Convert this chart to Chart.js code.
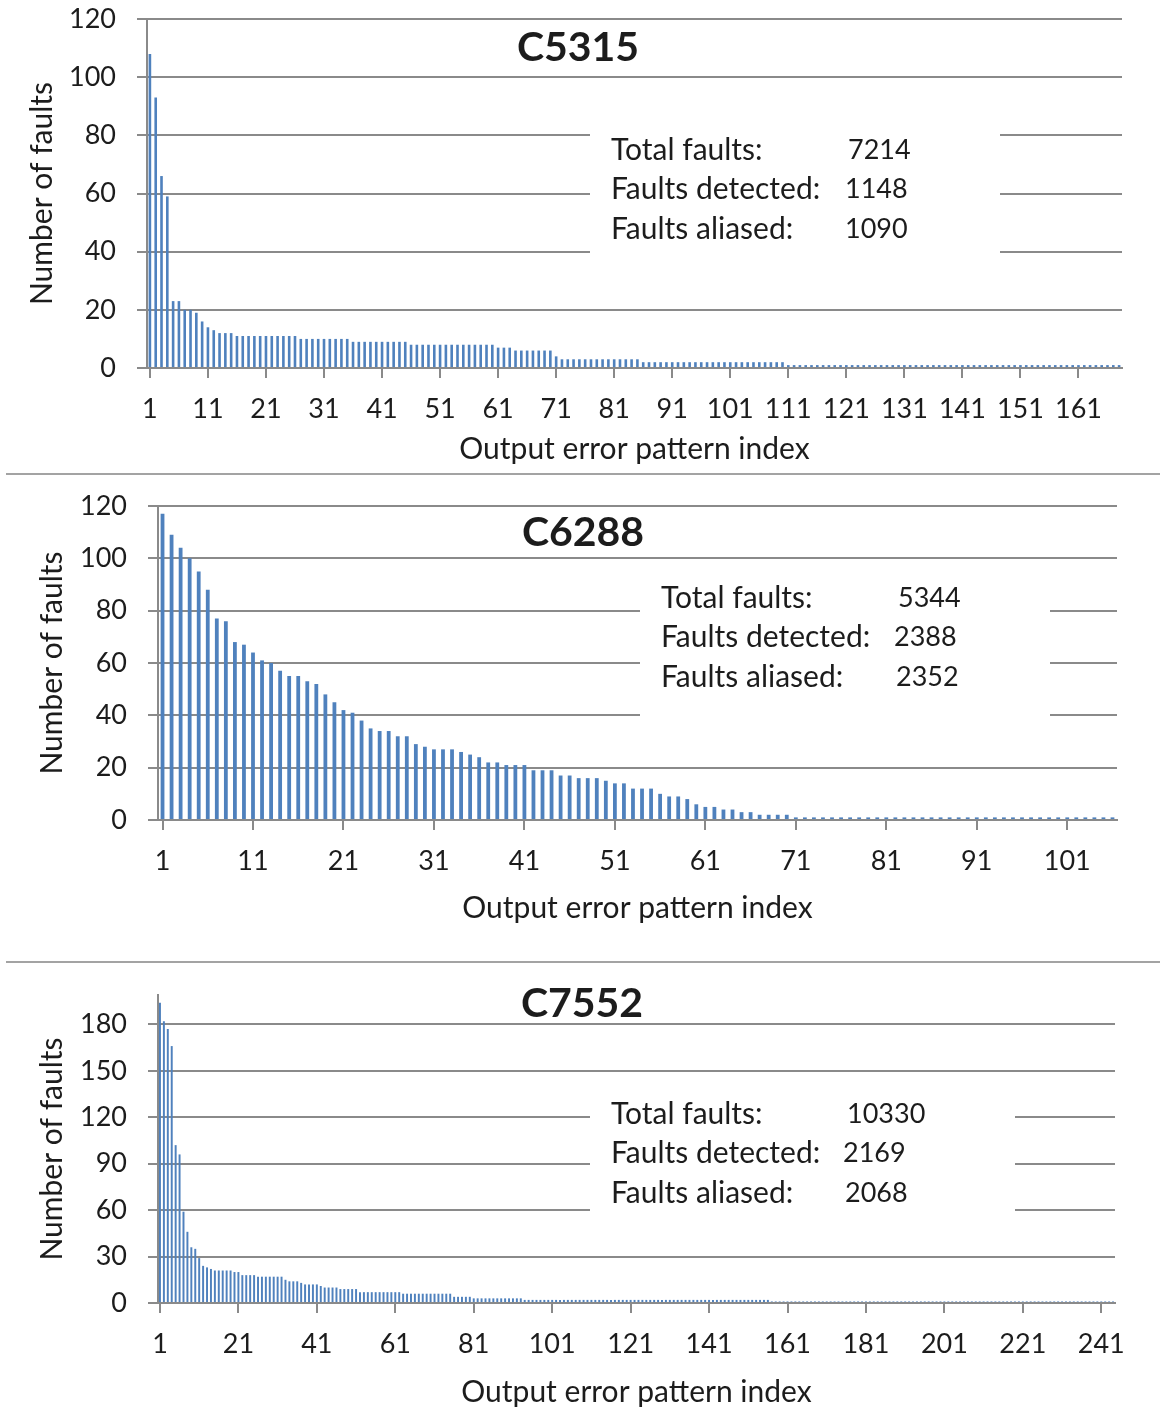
<!DOCTYPE html>
<html>
<head>
<meta charset="utf-8">
<title>Faults per output error pattern</title>
<script src="https://cdn.jsdelivr.net/npm/chart.js@4.4.1/dist/chart.umd.min.js"></script>
<style>
  body { margin: 0; background: #fff; }
  #page { position: relative; width: 1160px; height: 1410px; overflow: hidden; background: #fff; }
  canvas { position: absolute; left: 0; }
  .rule { position: absolute; left: 6px; width: 1154px; height: 2px; background: #a3a3a3; }
</style>
</head>
<body>
<div id="page">
  <canvas id="c5315" width="1160" height="470" style="top:0px"></canvas>
  <div class="rule" style="top:473px"></div>
  <canvas id="c6288" width="1160" height="482" style="top:478px"></canvas>
  <div class="rule" style="top:961px"></div>
  <canvas id="c7552" width="1160" height="444" style="top:966px"></canvas>
</div>
<script>
// values, one bar per output error pattern
const c5315Faults = [
  108, 93, 66, 59, 23, 23, 20, 20, 19, 16, 14, 13, 12, 12, 12, 11, 11, 11, 11, 11,
  11, 11, 11, 11, 11, 11, 10, 10, 10, 10, 10, 10, 10, 10, 10, 9, 9, 9, 9, 9,
  9, 9, 9, 9, 9, 8, 8, 8, 8, 8, 8, 8, 8, 8, 8, 8, 8, 8, 8, 8,
  7, 7, 7, 6, 6, 6, 6, 6, 6, 6, 4, 3, 3, 3, 3, 3, 3, 3, 3, 3,
  3, 3, 3, 3, 3, 2, 2, 2, 2, 2, 2, 2, 2, 2, 2, 2, 2, 2, 2, 2,
  2, 2, 2, 2, 2, 2, 2, 2, 2, 2, 1, 1, 1, 1, 1, 1, 1, 1, 1, 1,
  1, 1, 1, 1, 1, 1, 1, 1, 1, 1, 1, 1, 1, 1, 1, 1, 1, 1, 1, 1,
  1, 1, 1, 1, 1, 1, 1, 1, 1, 1, 1, 1, 1, 1, 1, 1, 1, 1, 1, 1,
  1, 1, 1, 1, 1, 1, 1, 1
];
const c6288Faults = [
  117, 109, 104, 100, 95, 88, 77, 76, 68, 67, 64, 61, 60, 57, 55, 55, 53, 52, 48, 45,
  42, 41, 38, 35, 34, 34, 32, 32, 29, 28, 27, 27, 27, 26, 25, 24, 22, 22, 21, 21,
  21, 19, 19, 19, 17, 17, 16, 16, 16, 15, 14, 14, 12, 12, 12, 10, 9, 9, 8, 6,
  5, 5, 4, 4, 3, 3, 2, 2, 2, 2, 1, 1, 1, 1, 1, 1, 1, 1, 1, 1,
  1, 1, 1, 1, 1, 1, 1, 1, 1, 1, 1, 1, 1, 1, 1, 1, 1, 1, 1, 1,
  1, 1, 1, 1, 1, 1
];
const c7552Faults = [
  194, 182, 177, 166, 102, 96, 59, 46, 36, 35, 29, 24, 23, 22, 21, 21, 21, 21, 21, 20,
  20, 18, 18, 18, 18, 17, 17, 17, 17, 17, 17, 17, 15, 14, 14, 14, 13, 12, 12, 12,
  12, 11, 10, 10, 10, 10, 9, 9, 9, 9, 9, 7, 7, 7, 7, 7, 7, 7, 7, 7,
  7, 7, 6, 6, 6, 6, 6, 6, 6, 6, 6, 6, 6, 6, 6, 4, 4, 4, 4, 4,
  3, 3, 3, 3, 3, 3, 3, 3, 3, 3, 3, 3, 3, 2, 2, 2, 2, 2, 2, 2,
  2, 2, 2, 2, 2, 2, 2, 2, 2, 2, 2, 2, 2, 2, 2, 2, 2, 2, 2, 2,
  2, 2, 2, 2, 2, 2, 2, 2, 2, 2, 2, 2, 2, 2, 2, 2, 2, 2, 2, 2,
  2, 2, 2, 2, 2, 2, 2, 2, 2, 2, 2, 2, 2, 2, 2, 2, 1, 1, 1, 1,
  1, 1, 1, 1, 1, 1, 1, 1, 1, 1, 1, 1, 1, 1, 1, 1, 1, 1, 1, 1,
  1, 1, 1, 1, 1, 1, 1, 1, 1, 1, 1, 1, 1, 1, 1, 1, 1, 1, 1, 1,
  1, 1, 1, 1, 1, 1, 1, 1, 1, 1, 1, 1, 1, 1, 1, 1, 1, 1, 1, 1,
  1, 1, 1, 1, 1, 1, 1, 1, 1, 1, 1, 1, 1, 1, 1, 1, 1, 1, 1, 1,
  1, 1, 1, 1
];

// tick labels shown on each axis
const c5315XTicks = [1, 11, 21, 31, 41, 51, 61, 71, 81, 91, 101, 111, 121, 131, 141, 151, 161];
const c6288XTicks = [1, 11, 21, 31, 41, 51, 61, 71, 81, 91, 101];
const c7552XTicks = [1, 21, 41, 61, 81, 101, 121, 141, 161, 181, 201, 221, 241];
const c5315YTicks = [0, 20, 40, 60, 80, 100, 120];
const c6288YTicks = [0, 20, 40, 60, 80, 100, 120];
const c7552YTicks = [0, 30, 60, 90, 120, 150, 180];

// text box contents
const c5315Stats = [["Total faults:", "7214"], ["Faults detected:", "1148"], ["Faults aliased:", "1090"]];
const c6288Stats = [["Total faults:", "5344"], ["Faults detected:", "2388"], ["Faults aliased:", "2352"]];
const c7552Stats = [["Total faults:", "10330"], ["Faults detected:", "2169"], ["Faults aliased:", "2068"]];

const FONT = "Lato, 'Open Sans', sans-serif";
const TEXT = "#1c1c1c";
const GRID = "#8a8a8a";
const BAR = "#4f81bd";

const statsBox = {
    id: "statsBox",
    beforeDatasetsDraw(chart) {
        const o = chart.options.plugins.statsBox;
        const ctx = chart.ctx;
        ctx.save();
        ctx.fillStyle = "#fff";
        ctx.fillRect(o.box[0], o.box[1], o.box[2], o.box[3]);
        ctx.fillStyle = TEXT;
        ctx.textBaseline = "middle";
        ctx.textAlign = "center";
        ctx.font = "bold 41px " + FONT;
        ctx.fillText(o.title, o.titleX, o.titleY);
        ctx.textAlign = "left";
        o.lines.forEach(function (line, i) {
            const y = o.textY + i * 39.5;
            ctx.font = "30px " + FONT;
            ctx.fillText(line[0], o.textX, y);
            ctx.font = "27px " + FONT;
            ctx.fillText(line[1], o.textX + o.valueDx[i], y);
        });
        ctx.restore();
    }
};

function drawChart(id, faults, xTicks, yTicks, yMax, s) {
    const labels = faults.map((v, i) => String(i + 1));
    const tickFont = { family: FONT, size: 27 };
    const titleFont = { family: FONT, size: 30 };

    return new Chart(document.getElementById(id), {
        type: "bar",
        data: {
            labels: labels,
            datasets: [{
                data: faults,
                backgroundColor: BAR,
                borderWidth: 0,
                categoryPercentage: 1,
                barPercentage: s.barPct
            }]
        },
        options: {
            responsive: false,
            animation: false,
            devicePixelRatio: 1,
            layout: { padding: { left: 0, top: s.top, right: s.right, bottom: 0 } },
            plugins: {
                legend: { display: false },
                tooltip: { enabled: false },
                statsBox: s.stats
            },
            scales: {
                x: {
                    ticks: { autoSkip: false, maxRotation: 0, color: TEXT, font: tickFont, padding: 15 },
                    afterBuildTicks: axis => {
                        axis.ticks = axis.ticks.filter(t => xTicks.includes(t.value + 1));
                    },
                    grid: { drawOnChartArea: false, offset: false, tickLength: 10, lineWidth: 2, color: GRID },
                    border: { color: GRID, width: 2 },
                    title: {
                        display: true, text: "Output error pattern index", color: TEXT, font: titleFont,
                        padding: { top: 0, bottom: s.xTitlePad }
                    },
                    afterFit: axis => { axis.height = s.xHeight; }
                },
                y: {
                    min: 0,
                    max: yMax,
                    ticks: { color: TEXT, font: tickFont, padding: 21 },
                    afterBuildTicks: axis => {
                        axis.ticks = yTicks.map(v => ({ value: v }));
                    },
                    grid: { tickLength: 10, lineWidth: 2, color: GRID },
                    border: { color: GRID, width: 2 },
                    title: {
                        display: true, text: "Number of faults", color: TEXT, font: titleFont,
                        padding: { top: s.yTitlePad, bottom: 0 }
                    },
                    afterFit: axis => {
                        axis.width = s.yWidth;
                        axis.paddingTop = 0;
                        axis.paddingBottom = 0;
                    }
                }
            }
        },
        plugins: [statsBox]
    });
}

document.addEventListener("DOMContentLoaded", function () {
    drawChart("c5315", c5315Faults, c5315XTicks, c5315YTicks, 120, {
        top: 19, right: 38, yWidth: 147, xHeight: 102, barPct: 0.45,
        xTitlePad: 3, yTitlePad: 24,
        stats: {
            title: "C5315", titleX: 578, titleY: 48,
            box: [590, 110, 410, 160],
            lines: c5315Stats, textX: 611, textY: 150, valueDx: [237, 234, 234]
        }
    });

    drawChart("c6288", c6288Faults, c6288XTicks, c6288YTicks, 120, {
        top: 28, right: 43, yWidth: 158, xHeight: 140, barPct: 0.42,
        xTitlePad: 34, yTitlePad: 34,
        stats: {
            title: "C6288", titleX: 583, titleY: 55,
            box: [640, 97, 410, 160],
            lines: c6288Stats, textX: 661, textY: 120, valueDx: [237, 233, 235]
        }
    });

    drawChart("c7552", c7552Faults, c7552XTicks, c7552YTicks, 199, {
        top: 29, right: 45, yWidth: 158, xHeight: 107, barPct: 0.5,
        xTitlePad: 0, yTitlePad: 34,
        stats: {
            title: "C7552", titleX: 582, titleY: 38,
            box: [590, 124, 425, 146],
            lines: c7552Stats, textX: 611, textY: 148, valueDx: [236, 232, 234]
        }
    });
});
</script>
</body>
</html>
